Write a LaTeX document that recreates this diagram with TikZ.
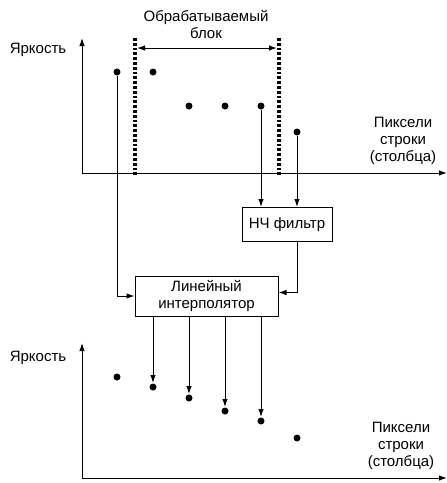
\documentclass[tikz,border=0pt]{standalone}
\usepackage{fontspec}
\setmainfont{Liberation Sans}
\usetikzlibrary{arrows.meta}
\begin{document}
\begin{tikzpicture}[x=1pt,y=-1pt,
  dot/.style={circle,fill=black,inner sep=0pt,minimum size=7pt},
  arr/.style={-{Latex[length=8pt,width=5.5pt]}},
  lbl/.style={font=\fontsize{15}{17}\selectfont,align=center,inner sep=0pt},
  boxn/.style={draw,line width=1pt,inner sep=0pt,font=\fontsize{15}{17}\selectfont,align=center},
  bnd/.style={line width=3.2pt,dash pattern=on 2.8pt off 2pt},
  line width=1pt]
\useasboundingbox (0,0) rectangle (447,483);
% top axes
\coordinate (o1) at (82,173);
\coordinate (y1) at (82,38);
\coordinate (x1) at (447,173);
\draw[arr] (o1) -- (y1);
\draw[arr] (o1) -- (x1);
\node[lbl] (ly1) at (38,50) {Яркость};
\node[lbl] (lx1) at (403,141) {Пиксели\\строки\\(столбца)};
% block boundaries
\coordinate (b1t) at (135,38);
\coordinate (b1b) at (135,176);
\coordinate (b2t) at (279,38);
\coordinate (b2b) at (279,176);
\draw[bnd] (b1t) -- (b1b);
\draw[bnd] (b2t) -- (b2b);
\coordinate (a1) at (137,48);
\coordinate (a2) at (277,48);
\draw[{Latex[length=8pt,width=5.5pt]}-{Latex[length=8pt,width=5.5pt]}] (a1) -- (a2);
\node[lbl] (lblk) at (206,25) {Обрабатываемый\\блок};
% top points
\node[dot] (p1) at (117,72) {};
\node[dot] (p2) at (153,72) {};
\node[dot] (p3) at (189,106) {};
\node[dot] (p4) at (225,106) {};
\node[dot] (p5) at (261,106) {};
\node[dot] (p6) at (297,132) {};
% boxes
\node[boxn,minimum width=90pt,minimum height=34pt] (filt) at (287,224.5) {НЧ фильтр};
\node[boxn,minimum width=143pt,minimum height=40pt] (interp) at (206.5,296) {Линейный\\интерполятор};
% connections
\draw[arr] (p5) -- (p5 |- filt.north);
\draw[arr] (p6) -- (p6 |- filt.north);
\draw[arr] (p1) |- (interp.west);
\coordinate (fo) at (297,241.5);
\draw[arr] (fo) |- ([yshift=3.5pt]interp.east);
% bottom axes
\coordinate (o2) at (82,478);
\coordinate (y2) at (82,343);
\coordinate (x2) at (447,478);
\draw[arr] (o2) -- (y2);
\draw[arr] (o2) -- (x2);
\node[lbl] (ly2) at (38,358) {Яркость};
\node[lbl] (lx2) at (401,446) {Пиксели\\строки\\(столбца)};
% bottom points
\node[dot] (q1) at (117,377) {};
\node[dot] (q2) at (153,387) {};
\node[dot] (q3) at (189,398) {};
\node[dot] (q4) at (225,411) {};
\node[dot] (q5) at (261,421) {};
\node[dot] (q6) at (297,438) {};
\foreach \q in {q2,q3,q4,q5}
  \draw[arr] (interp.south -| \q) -- (\q);
\end{tikzpicture}
\end{document}
